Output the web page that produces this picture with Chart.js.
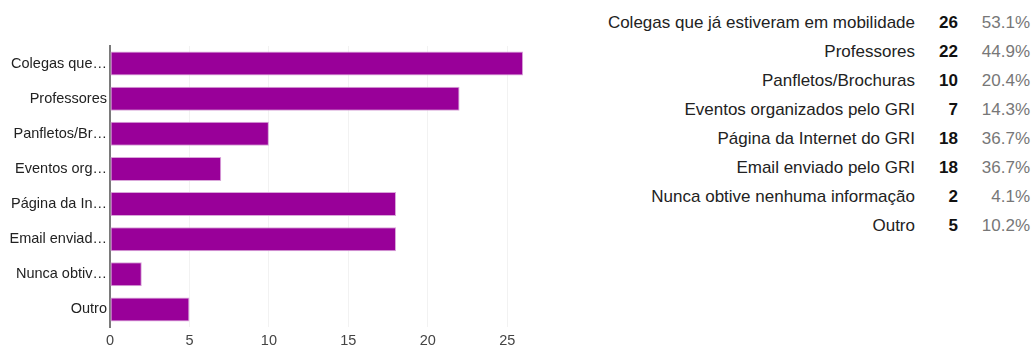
<!DOCTYPE html>
<html>
<head>
<meta charset="utf-8">
<script src="https://cdn.jsdelivr.net/npm/chart.js@4/dist/chart.umd.min.js"></script>
<style>
  html, body { margin: 0; padding: 0; background: #fff; }
  body { width: 1033px; height: 349px; position: relative; overflow: hidden;
         font-family: "Liberation Sans", Arial, sans-serif; }
  #c { position: absolute; left: 0; top: 0; }
  .row { position: absolute; left: 560px; width: 470px; height: 20px; line-height: 20px;
         font-size: 17px; white-space: nowrap; }
  .row span { position: absolute; top: 0; text-align: right; }
  .lab { right: 115px; color: #222; }
  .cnt { right: 72px; color: #111; font-weight: bold; }
  .pct { right: 0; color: #777; }
</style>
</head>
<body>
<canvas id="c" width="540" height="349"></canvas>
<div id="tbl"></div>
<script>
const categories = [
  "Colegas que já estiveram em mobilidade",
  "Professores",
  "Panfletos/Brochuras",
  "Eventos organizados pelo GRI",
  "Página da Internet do GRI",
  "Email enviado pelo GRI",
  "Nunca obtive nenhuma informação",
  "Outro"
];
const shortLabels = [
  "Colegas que…",
  "Professores",
  "Panfletos/Br…",
  "Eventos org…",
  "Página da In…",
  "Email enviad…",
  "Nunca obtiv…",
  "Outro"
];
const counts = [26, 22, 10, 7, 18, 18, 2, 5];
const percents = ["53.1%", "44.9%", "20.4%", "14.3%", "36.7%", "36.7%", "4.1%", "10.2%"];
const xTicks = [0, 5, 10, 15, 20, 25];

// Table on the right
const tbl = document.getElementById('tbl');
categories.forEach((name, i) => {
  const r = document.createElement('div');
  r.className = 'row';
  r.style.top = (12.5 + i * 29) + 'px';
  const a = document.createElement('span'); a.className = 'lab'; a.textContent = name;
  const b = document.createElement('span'); b.className = 'cnt'; b.textContent = counts[i];
  const c = document.createElement('span'); c.className = 'pct'; c.textContent = percents[i];
  r.appendChild(a); r.appendChild(b); r.appendChild(c);
  tbl.appendChild(r);
});

const FONT = "'Liberation Sans', Arial, sans-serif";
new Chart(document.getElementById('c'), {
  type: 'bar',
  data: {
    labels: shortLabels,
    datasets: [{
      data: counts,
      backgroundColor: '#990099',
      borderColor: '#d9a6d9',
      borderWidth: 1,
      borderSkipped: false,
      barPercentage: 0.68,
      categoryPercentage: 1.0
    }]
  },
  options: {
    indexAxis: 'y',
    responsive: false,
    animation: false,
    layout: { padding: { top: 46, right: 1, left: 0, bottom: 0 } },
    plugins: { legend: { display: false }, tooltip: { enabled: false } },
    scales: {
      x: {
        min: 0, max: 27,
        afterBuildTicks: s => { s.ticks = xTicks.map(v => ({ value: v })); },
        afterFit: s => { s.height = 22; },
        grid: { color: '#f2f2f2', drawTicks: false },
        border: { display: false },
        ticks: { padding: 5, color: '#444', font: { family: FONT, size: 14.5 } }
      },
      y: {
        afterFit: s => { s.width = 110; },
        grid: { display: false, drawTicks: false },
        border: { display: true, color: '#7a7a7a', width: 2 },
        ticks: { padding: 3, color: '#222', font: { family: FONT, size: 14.5 } }
      }
    }
  }
});
</script>
</body>
</html>
